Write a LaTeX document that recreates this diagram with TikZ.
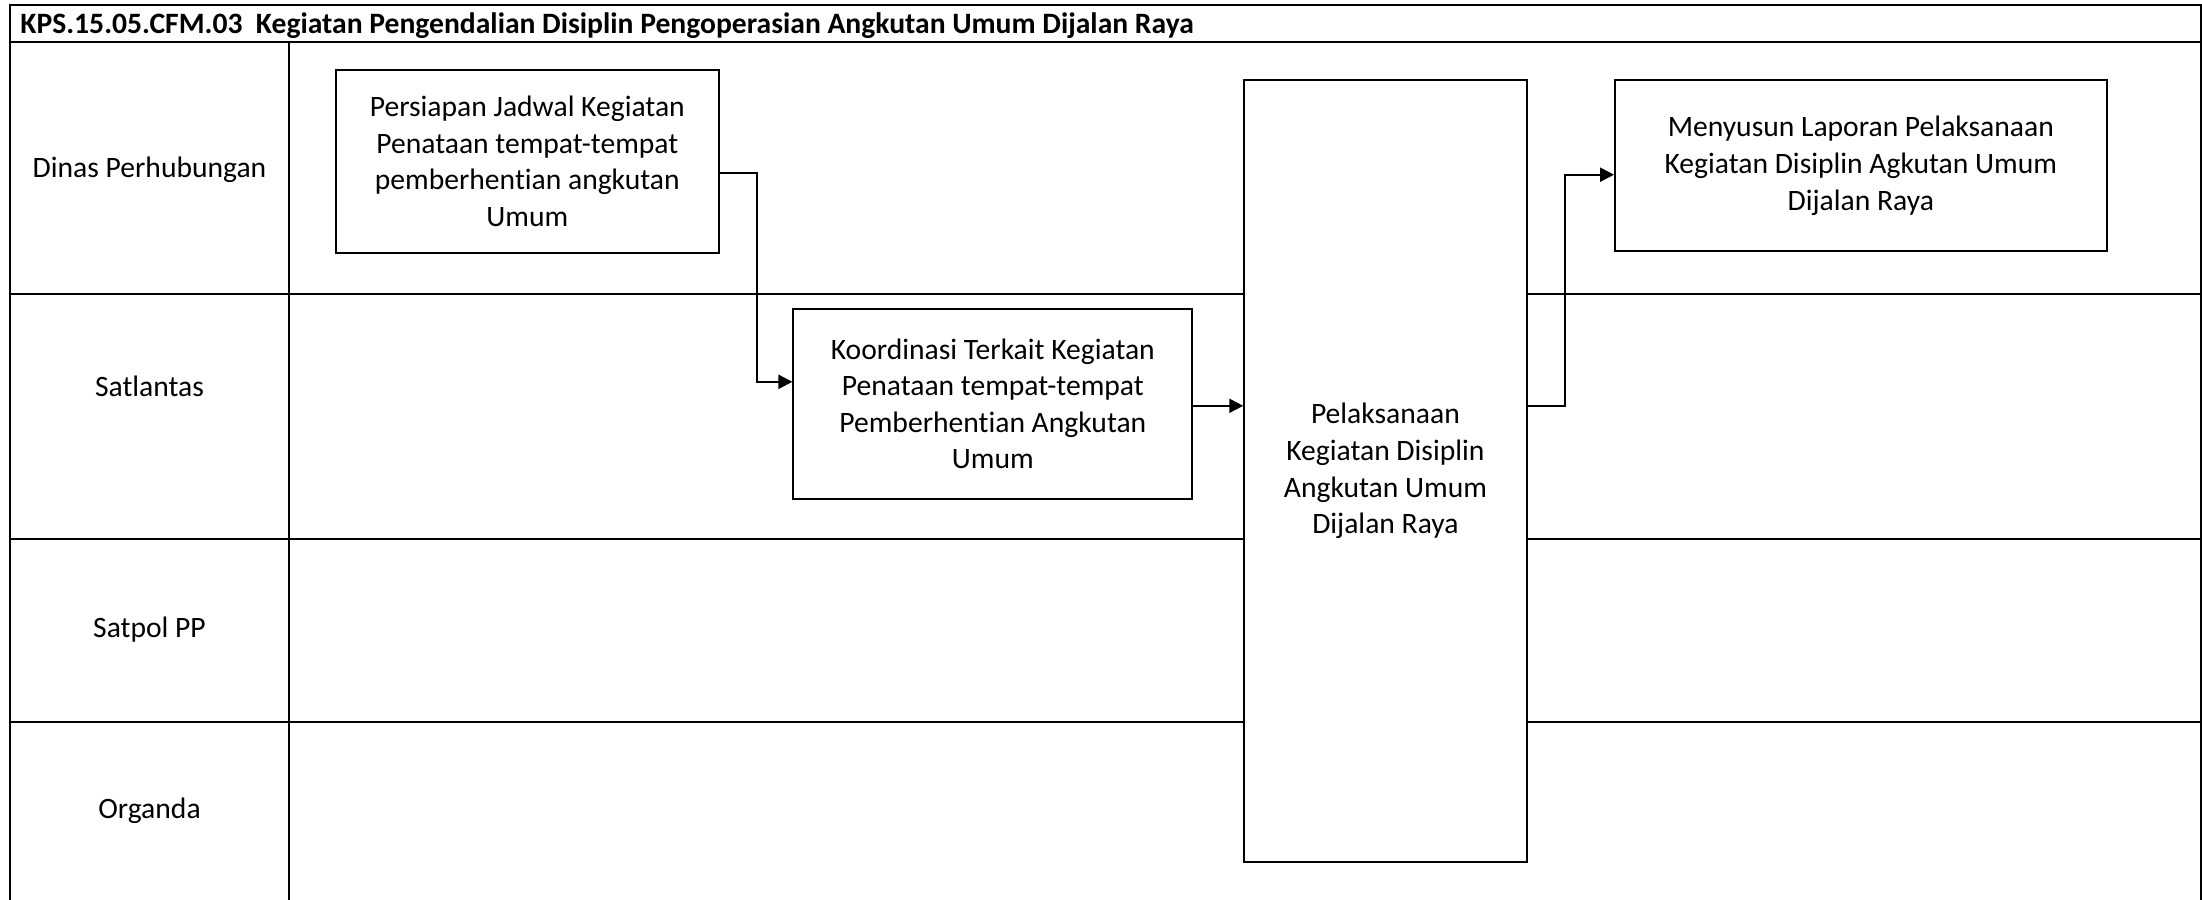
\documentclass[tikz,border=0pt]{standalone}
\usepackage{fontspec}
\setmainfont{Carlito}[Ligatures=NoCommon]
\usetikzlibrary{arrows.meta}
\begin{document}
\begin{tikzpicture}[x=0.5pt,y=-0.5pt,
  frame/.style={line width=1pt},
  box/.style={draw, line width=1pt, fill=white, align=center, inner sep=0pt,
    font=\fontsize{14.8pt}{18.3pt}\selectfont},
  lanelabel/.style={font=\fontsize{14.8pt}{18pt}\selectfont, inner sep=0pt},
  arr/.style={line width=1.1pt, -{Triangle[length=7pt,width=7pt]}}]
\useasboundingbox (0,0) rectangle (2202,900);
% frame and lanes
\draw[frame] (10,900) -- (10,5) -- (2201,5) -- (2201,900);
\draw[frame] (10,42) -- (2201,42);
\draw[frame] (289,42) -- (289,900);
\draw[frame] (10,293.5) -- (2201,293.5);
\draw[frame] (10,539) -- (2201,539);
\draw[frame] (10,722) -- (2201,722);
% title
\node[anchor=base west, inner sep=0pt, font=\fontsize{14.8pt}{16pt}\selectfont\bfseries] (title) at (20,33)
  {KPS.15.05.CFM.03\ \ Kegiatan Pengendalian Disiplin Pengoperasian Angkutan Umum Dijalan Raya};
% lane labels
\node[lanelabel] (l1) at (149.5,170) {Dinas Perhubungan};
\node[lanelabel] (l2) at (149.5,386) {Satlantas};
\node[lanelabel] (l3) at (149.5,630) {Satpol PP};
\node[lanelabel] (l4) at (149.5,811) {Organda};
% boxes
\node[box, minimum width=191.7pt, minimum height=91.3pt] (b1) at (527.3,161.5)
  {Persiapan Jadwal Kegiatan\\Penataan tempat-tempat\\pemberhentian angkutan\\Umum};
\node[box, minimum width=199.4pt, minimum height=94.75pt] (b2) at (992.8,403.8)
  {Koordinasi Terkait Kegiatan\\Penataan tempat-tempat\\Pemberhentian Angkutan\\Umum};
\node[box, minimum width=141.15pt, minimum height=391.1pt] (b3) at (1385.4,471.1)
  {Pelaksanaan\\Kegiatan Disiplin\\Angkutan Umum\\Dijalan Raya};
\node[box, minimum width=245.75pt, minimum height=85.7pt] (b4) at (1860.8,165.7)
  {Menyusun Laporan Pelaksanaan\\Kegiatan Disiplin Agkutan Umum\\Dijalan Raya};
% connectors
\draw[arr] ([yshift=-5.75pt]b1.east) -- ++(18.5pt,0) |- ([yshift=11pt]b2.west);
\draw[arr] ([yshift=-1pt]b2.east) -- ([yshift=-1pt]b2.east -| b3.west);
\draw[arr] ([yshift=-1pt]b2.east -| b3.east) -- ++(18.75pt,0) |- ([yshift=-4.5pt]b4.west);
\end{tikzpicture}
\end{document}
